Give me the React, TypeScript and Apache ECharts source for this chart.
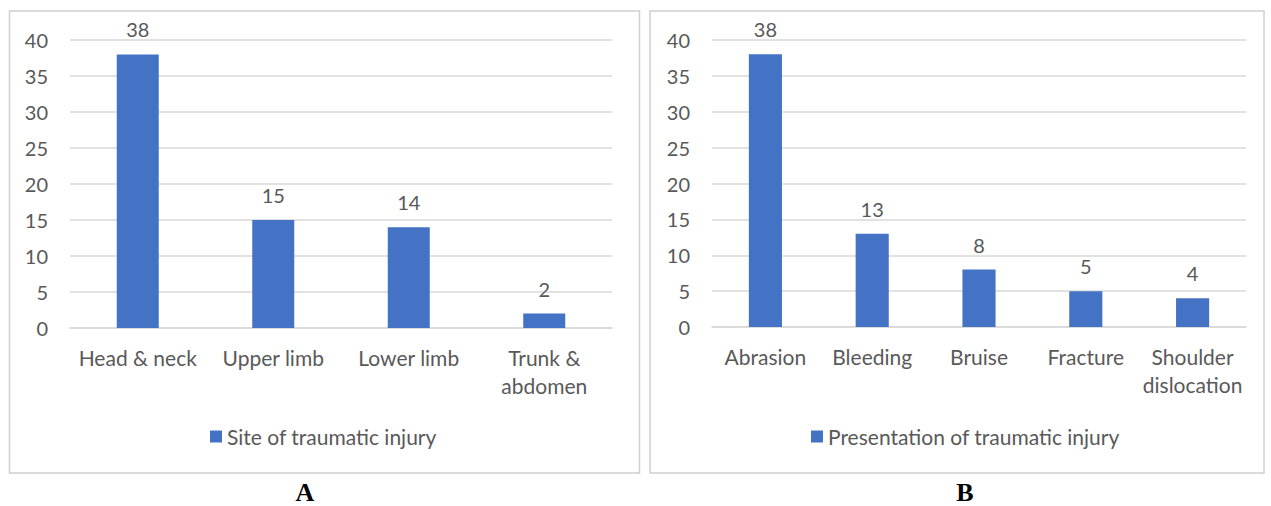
import React, { useEffect, useRef } from "react";
import * as echarts from "echarts";

const siteCategories = ["Head & neck", "Upper limb", "Lower limb", "Trunk &\nabdomen"];
const siteValues = [38, 15, 14, 2];
const presCategories = ["Abrasion", "Bleeding", "Bruise", "Fracture", "Shoulder\ndislocation"];
const presValues = [38, 13, 8, 5, 4];
const seriesNames = ["Site of traumatic injury", "Presentation of traumatic injury"];
const panelLabels = ["A", "B"];

const FONT = "Lato";
const TEXT = "#595959";
const BAR = "#4472C4";
const GRID = "#D9D9D9";

export default function App() {
  const ref = useRef<HTMLDivElement>(null);
  useEffect(() => {
    if (!ref.current) return;
    const chart = echarts.init(ref.current, undefined, { renderer: "svg" });
    const yAxisCommon = (gridIndex: number) => ({
      type: "value",
      gridIndex,
      min: 0,
      max: 40,
      interval: 5,
      axisLine: { show: false },
      axisTick: { show: false },
      axisLabel: { color: TEXT, fontFamily: FONT, fontSize: 20, margin: 22 },
      splitLine: { lineStyle: { color: GRID, width: 1.5 } },
    });
    const xAxisCommon = (gridIndex: number, data: string[]) => ({
      type: "category",
      gridIndex,
      data,
      axisLine: { lineStyle: { color: GRID, width: 1.5 } },
      axisTick: { show: false },
      axisLabel: {
        color: TEXT,
        fontFamily: FONT,
        fontSize: 21,
        margin: 15,
        lineHeight: 28,
        interval: 0,
      },
    });
    const labelCommon = {
      show: true,
      position: "top",
      distance: 15,
      color: TEXT,
      fontFamily: FONT,
      fontSize: 20,
    };
    const legendText = { color: TEXT, fontFamily: FONT, fontSize: 21 };
    chart.setOption({
      animation: false,
      backgroundColor: "#fff",
      grid: [
        { left: 70, right: 1271 - 612, top: 40, bottom: 506 - 328 },
        { left: 712, right: 1271 - 1246, top: 40, bottom: 506 - 327 },
      ],
      xAxis: [xAxisCommon(0, siteCategories), xAxisCommon(1, presCategories)],
      yAxis: [yAxisCommon(0), yAxisCommon(1)],
      legend: [
        {
          data: [seriesNames[0]],
          left: 210,
          top: 426,
          padding: 0,
          itemWidth: 12,
          itemHeight: 12,
          icon: "rect",
          textStyle: legendText,
        },
        {
          data: [seriesNames[1]],
          left: 811,
          top: 426,
          padding: 0,
          itemWidth: 12,
          itemHeight: 12,
          icon: "rect",
          textStyle: legendText,
        },
      ],
      series: [
        {
          name: seriesNames[0],
          type: "bar",
          xAxisIndex: 0,
          yAxisIndex: 0,
          data: siteValues,
          barWidth: "31%",
          itemStyle: { color: BAR },
          label: labelCommon,
        },
        {
          name: seriesNames[1],
          type: "bar",
          xAxisIndex: 1,
          yAxisIndex: 1,
          data: presValues,
          barWidth: "31%",
          itemStyle: { color: BAR },
          label: labelCommon,
        },
      ],
      graphic: [
        {
          type: "rect",
          shape: { x: 9.5, y: 11, width: 630, height: 462 },
          style: { fill: "none", stroke: "#D0D0D0", lineWidth: 1.5 },
          silent: true,
        },
        {
          type: "rect",
          shape: { x: 650, y: 11, width: 614, height: 462 },
          style: { fill: "none", stroke: "#D0D0D0", lineWidth: 1.5 },
          silent: true,
        },
        {
          type: "text",
          x: 305,
          y: 492,
          style: {
            text: panelLabels[0],
            fill: "#000",
            font: "bold 26px 'Liberation Serif', 'Times New Roman', serif",
            textAlign: "center",
            textVerticalAlign: "middle",
          },
        },
        {
          type: "text",
          x: 965,
          y: 492,
          style: {
            text: panelLabels[1],
            fill: "#000",
            font: "bold 26px 'Liberation Serif', 'Times New Roman', serif",
            textAlign: "center",
            textVerticalAlign: "middle",
          },
        },
      ],
    });
    return () => chart.dispose();
  }, []);
  return (
    <div
      ref={ref}
      style={{ position: "fixed", left: 0, top: 0, width: 1271, height: 506, background: "#fff" }}
    />
  );
}
